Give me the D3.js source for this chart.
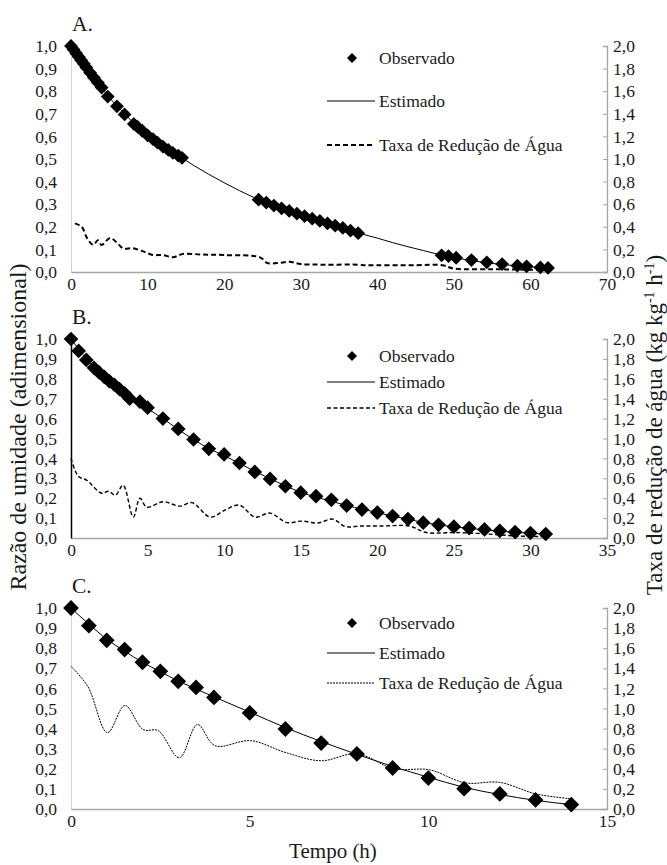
<!DOCTYPE html>
<html>
<head>
<meta charset="utf-8">
<script src="https://cdn.jsdelivr.net/npm/d3@7"></script>
<style>
  body { margin: 0; background: #fff; }
</style>
</head>
<body>
<svg id="chart" width="667" height="865"></svg>
<script>
// ---- Painel A ----
var tempoObsA = [0, 0.33, 0.67, 1, 1.33, 1.67, 2, 2.5, 3, 3.5, 4, 4.8, 6, 7, 8.2, 8.7, 9.3, 10, 10.7, 11.3, 12, 12.7, 13.3, 14, 14.5,
  24.5, 25.5, 26.5, 27.5, 28.5, 29.5, 30.5, 31.5, 32.5, 33.5, 34.5, 35.5, 36.5, 37.5,
  48.4, 49.3, 50.3, 52.3, 54.3, 56.3, 58.3, 59.5, 61.3, 62.3];
var obsA = [1.000, 0.985, 0.968, 0.952, 0.937, 0.921, 0.905, 0.882, 0.860, 0.838, 0.816, 0.776, 0.733, 0.697, 0.655, 0.642, 0.625, 0.605, 0.588, 0.572, 0.555, 0.540, 0.527, 0.515, 0.505,
  0.320, 0.307, 0.294, 0.282, 0.270, 0.258, 0.247, 0.236, 0.226, 0.215, 0.205, 0.195, 0.183, 0.172,
  0.074, 0.070, 0.063, 0.053, 0.043, 0.035, 0.028, 0.025, 0.020, 0.018];
var tempoEstA = [0, 1, 2, 3, 4, 5, 6, 7, 8, 9, 10, 12, 14, 16, 18, 20, 22, 24, 26, 28, 30, 32, 34, 36, 38, 40, 42, 44, 46, 48, 50, 52, 54, 56, 58, 60, 62.3];
var estA = [1.000, 0.952, 0.905, 0.860, 0.816, 0.772, 0.735, 0.700, 0.665, 0.633, 0.605, 0.553, 0.515, 0.472, 0.432, 0.395, 0.360, 0.328, 0.300, 0.275, 0.250, 0.228, 0.208, 0.188, 0.168, 0.150, 0.130, 0.112, 0.095, 0.078, 0.064, 0.052, 0.042, 0.034, 0.028, 0.023, 0.018];
var tempoTaxaA = [0.5, 1.4, 2.1, 2.9, 3.5, 4.0, 5.1, 6.0, 6.8, 8.1, 9.5, 10.7, 12, 13.3, 14.6, 17, 20, 24.7, 25.6, 27, 28.5, 30, 33, 37.5, 38.5, 45, 48.5, 50, 55, 60, 62.3];
var taxaA = [0.43, 0.40, 0.30, 0.24, 0.28, 0.24, 0.30, 0.26, 0.21, 0.21, 0.18, 0.15, 0.15, 0.13, 0.16, 0.155, 0.15, 0.13, 0.08, 0.08, 0.09, 0.07, 0.065, 0.065, 0.06, 0.06, 0.06, 0.03, 0.025, 0.02, 0.02];
var xTicksA = [0, 10, 20, 30, 40, 50, 60, 70];

// ---- Painel B ----
var tempoObsB = [0, 0.5, 1, 1.5, 1.83, 2.17, 2.5, 2.83, 3.17, 3.5, 3.83, 4.5, 5, 6, 7, 8, 9, 10, 11, 12, 13, 14, 15, 16, 17, 18, 19, 20, 21, 22, 23, 24, 25, 26, 27, 28, 29, 30, 31];
var obsB = [1.000, 0.940, 0.895, 0.855, 0.832, 0.810, 0.788, 0.770, 0.748, 0.727, 0.700, 0.685, 0.655, 0.600, 0.548, 0.495, 0.448, 0.420, 0.377, 0.332, 0.297, 0.260, 0.228, 0.210, 0.192, 0.163, 0.143, 0.128, 0.110, 0.095, 0.077, 0.066, 0.057, 0.050, 0.043, 0.036, 0.030, 0.025, 0.020];
var tempoEstB = [0, 1, 2, 3, 4, 5, 6, 7, 8, 9, 10, 11, 12, 13, 14, 15, 16, 17, 18, 19, 20, 21, 22, 23, 24, 25, 26, 27, 28, 29, 30, 31];
var estB = [1.000, 0.900, 0.820, 0.755, 0.697, 0.650, 0.600, 0.546, 0.495, 0.450, 0.414, 0.375, 0.335, 0.298, 0.262, 0.230, 0.205, 0.185, 0.163, 0.145, 0.128, 0.110, 0.095, 0.078, 0.066, 0.056, 0.048, 0.041, 0.034, 0.029, 0.024, 0.020];
var tempoTaxaB = [0, 0.48, 1.03, 2.0, 2.45, 2.9, 3.4, 4.07, 4.5, 4.95, 6.03, 7.1, 7.9, 9.1, 10.05, 11.0, 12.0, 13.0, 14.1, 15.05, 16.1, 17.1, 17.9, 18.9, 20.2, 22.1, 23.2, 25.2, 27.2, 29.2, 31.1];
var taxaB = [0.80, 0.62, 0.58, 0.45, 0.47, 0.43, 0.53, 0.21, 0.40, 0.31, 0.365, 0.32, 0.355, 0.21, 0.28, 0.33, 0.21, 0.25, 0.155, 0.17, 0.15, 0.19, 0.115, 0.12, 0.12, 0.12, 0.055, 0.055, 0.04, 0.02, 0.015];
var xTicksB = [0, 5, 10, 15, 20, 25, 30, 35];

// ---- Painel C ----
var tempoObsC = [0, 0.5, 1, 1.5, 2, 2.5, 3, 3.5, 4, 5, 6, 7, 8, 9, 10, 11, 12, 13, 14];
var obsC = [1.000, 0.912, 0.839, 0.793, 0.730, 0.685, 0.635, 0.605, 0.555, 0.478, 0.398, 0.328, 0.274, 0.204, 0.154, 0.101, 0.075, 0.045, 0.022];
var tempoEstC = [0, 0.5, 1, 1.5, 2, 2.5, 3, 3.5, 4, 5, 6, 7, 8, 9, 10, 11, 12, 13, 14];
var estC = [1.000, 0.920, 0.845, 0.785, 0.730, 0.683, 0.637, 0.597, 0.558, 0.482, 0.405, 0.336, 0.272, 0.212, 0.158, 0.108, 0.072, 0.043, 0.022];
var tempoTaxaC = [0, 0.47, 1.02, 1.51, 2.02, 2.44, 3.03, 3.54, 4.03, 5.03, 6.02, 7.0, 8.0, 9.04, 10.03, 11.03, 12.0, 13.01, 14.04];
var taxaC = [1.42, 1.22, 0.76, 1.03, 0.79, 0.78, 0.51, 0.84, 0.63, 0.68, 0.56, 0.48, 0.55, 0.40, 0.39, 0.26, 0.265, 0.15, 0.10];
var xTicksC = [0, 5, 10, 15];

// eixos y (comuns)
var yTicksEsq = [0, 0.1, 0.2, 0.3, 0.4, 0.5, 0.6, 0.7, 0.8, 0.9, 1.0];
var yTicksDir = [0, 0.2, 0.4, 0.6, 0.8, 1.0, 1.2, 1.4, 1.6, 1.8, 2.0];
var legendas = ["Observado", "Estimado", "Taxa de Redução de Água"];

var svg = d3.select("#chart");
var left = 71, right = 607;
var fonte = "'Liberation Serif', 'Times New Roman', serif";
var virgula = function (d) { return d3.format(".1f")(d).replace(".", ","); };
var cinza = "#a6a6a6";

function zip(a, b) { return a.map(function (v, i) { return [v, b[i]]; }); }

function drawPanel(p) {
  var x = d3.scaleLinear().domain([0, p.xMax]).range([left, right]);
  var y = d3.scaleLinear().domain([0, 1]).range([p.bottom, p.top]);
  var y2 = d3.scaleLinear().domain([0, 2]).range([p.bottom, p.top]);
  var g = svg.append("g");

  // eixo x
  var ax = g.append("g")
    .attr("transform", "translate(0," + p.bottom + ")")
    .call(d3.axisBottom(x).tickValues(p.xTicks).tickSize(0).tickPadding(6).tickFormat(d3.format("d")));
  ax.select(".domain").attr("stroke", cinza).attr("stroke-width", 1.3);

  // eixo esquerdo
  var ay = g.append("g")
    .attr("transform", "translate(" + left + ",0)")
    .call(d3.axisLeft(y).tickValues(yTicksEsq).tickSize(0).tickPadding(14).tickFormat(virgula));
  ay.select(".domain")
    .attr("stroke", p.eixoSolido ? "#000" : cinza)
    .attr("stroke-width", p.eixoSolido ? 1.5 : 1)
    .attr("stroke-dasharray", p.eixoSolido ? null : "1,1");

  // eixo direito
  var ay2 = g.append("g")
    .attr("transform", "translate(" + right + ",0)")
    .call(d3.axisRight(y2).tickValues(yTicksDir).tickSizeInner(-4).tickSizeOuter(-4).tickPadding(6).tickFormat(virgula));
  ay2.select(".domain").attr("stroke", cinza).attr("stroke-width", 1.3);
  ay2.selectAll(".tick line").attr("stroke", cinza);

  g.selectAll(".tick text").attr("font-size", 17.5);

  // taxa de redução
  var linhaTaxa = d3.line().curve(d3.curveCatmullRom.alpha(0.5))
    .x(function (d) { return x(d[0]); }).y(function (d) { return y2(d[1]); });
  g.append("path").datum(zip(p.tempoTaxa, p.taxa))
    .attr("d", linhaTaxa).attr("fill", "none").attr("stroke", "#000")
    .attr("stroke-width", p.taxaLargura).attr("stroke-dasharray", p.taxaTraco);

  // estimado
  var linhaEst = d3.line().curve(d3.curveMonotoneX)
    .x(function (d) { return x(d[0]); }).y(function (d) { return y(d[1]); });
  g.append("path").datum(zip(p.tempoEst, p.est))
    .attr("d", linhaEst).attr("fill", "none").attr("stroke", "#000").attr("stroke-width", 1);

  // observado
  var losango = d3.symbol().type(d3.symbolSquare).size(p.area);
  g.selectAll(".obs").data(zip(p.tempoObs, p.obs)).enter().append("path")
    .attr("d", losango)
    .attr("transform", function (d) { return "translate(" + x(d[0]) + "," + y(d[1]) + ") rotate(45)"; })
    .attr("fill", "#000");

  // rótulo do painel
  g.append("text").attr("x", 72).attr("y", p.top - 15).attr("font-size", 21.5).text(p.rotulo);

  // legenda
  var lg = g.append("g");
  lg.append("path").attr("d", d3.symbol().type(d3.symbolSquare).size(50)())
    .attr("transform", "translate(352," + p.legY[0] + ") rotate(45)").attr("fill", "#000");
  lg.append("line").attr("x1", 327).attr("x2", 375).attr("y1", p.legY[1]).attr("y2", p.legY[1])
    .attr("stroke", "#000").attr("stroke-width", 1);
  lg.append("line").attr("x1", 327).attr("x2", 375).attr("y1", p.legY[2]).attr("y2", p.legY[2])
    .attr("stroke", "#000").attr("stroke-width", p.taxaLargura).attr("stroke-dasharray", p.taxaTraco);
  lg.selectAll("text").data(legendas).enter().append("text")
    .attr("x", 379).attr("y", function (d, i) { return p.legY[i]; })
    .attr("dy", "0.35em").attr("font-size", 17.5).text(function (d) { return d; });
}

drawPanel({ rotulo: "A.", top: 46, bottom: 272, xMax: 70, xTicks: xTicksA,
  tempoObs: tempoObsA, obs: obsA, tempoEst: tempoEstA, est: estA, tempoTaxa: tempoTaxaA, taxa: taxaA,
  taxaLargura: 2, taxaTraco: "5,3", eixoSolido: false, area: 95, legY: [58, 101, 145] });

drawPanel({ rotulo: "B.", top: 339, bottom: 538, xMax: 35, xTicks: xTicksB,
  tempoObs: tempoObsB, obs: obsB, tempoEst: tempoEstB, est: estB, tempoTaxa: tempoTaxaB, taxa: taxaB,
  taxaLargura: 1.4, taxaTraco: "4,2.5", eixoSolido: true, area: 108, legY: [356, 382, 408] });

drawPanel({ rotulo: "C.", top: 608, bottom: 809, xMax: 15, xTicks: xTicksC,
  tempoObs: tempoObsC, obs: obsC, tempoEst: tempoEstC, est: estC, tempoTaxa: tempoTaxaC, taxa: taxaC,
  taxaLargura: 1, taxaTraco: "2,1", eixoSolido: false, area: 125, legY: [623, 653, 683] });

// títulos dos eixos
svg.append("text").attr("transform", "translate(26,427) rotate(-90)")
  .attr("text-anchor", "middle").attr("font-size", 24).text("Razão de umidade (adimensional)");

var tDir = svg.append("text").attr("transform", "translate(662,425) rotate(-90)")
  .attr("text-anchor", "middle").attr("font-size", 23);
tDir.append("tspan").text("Taxa de redução de água (kg kg");
tDir.append("tspan").attr("dy", -8).attr("font-size", 14).text("-1");
tDir.append("tspan").attr("dy", 8).text(" h");
tDir.append("tspan").attr("dy", -8).attr("font-size", 14).text("-1");
tDir.append("tspan").attr("dy", 8).text(")");

svg.append("text").attr("x", 333).attr("y", 858).attr("text-anchor", "middle")
  .attr("font-size", 21).text("Tempo (h)");

// fonte serifada em todos os textos
svg.selectAll("text").style("font-family", fonte).style("fill", "#1a1a1a");
</script>
</body>
</html>
